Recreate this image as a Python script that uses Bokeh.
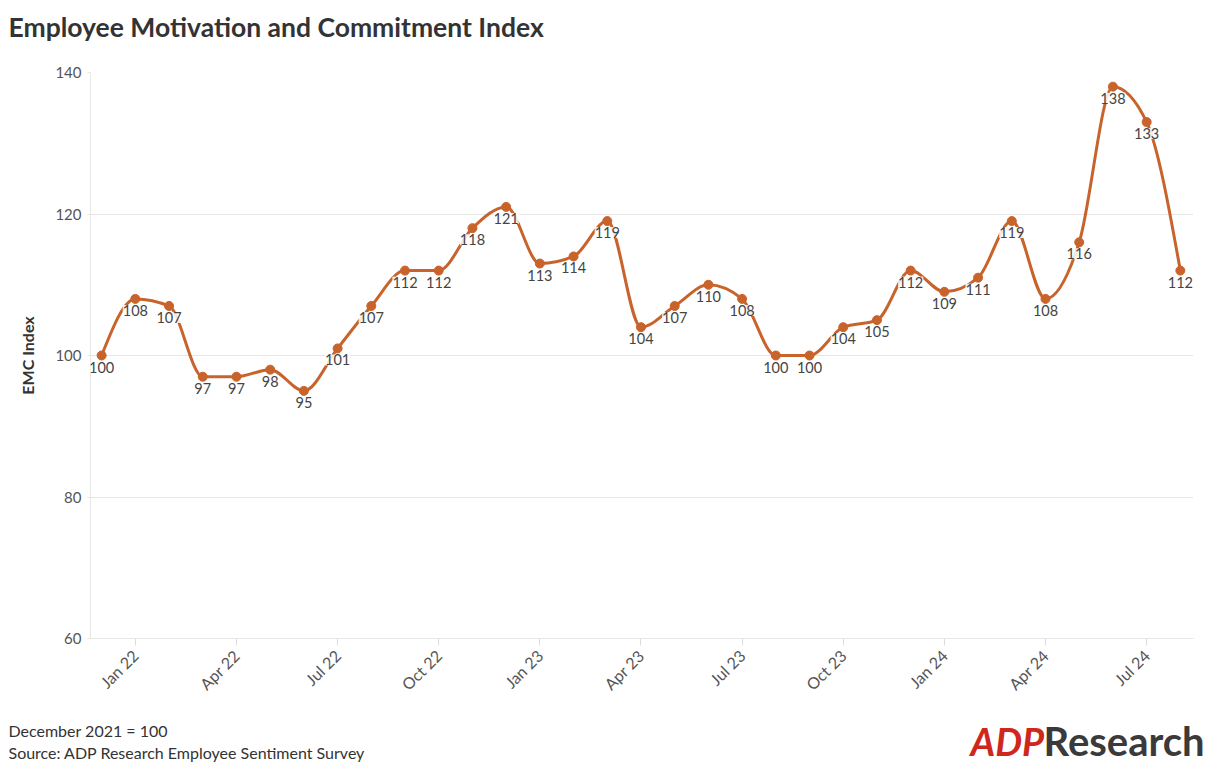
import numpy as np
from bokeh.plotting import figure
from bokeh.layouts import column
from bokeh.models import Range1d, FixedTicker, ColumnDataSource, LabelSet, Label
from bokeh.core.properties import value
from bokeh.embed import file_html
from bokeh.resources import INLINE

months = ["Dec 21", "Jan 22", "Feb 22", "Mar 22", "Apr 22", "May 22", "Jun 22", "Jul 22",
          "Aug 22", "Sep 22", "Oct 22", "Nov 22", "Dec 22", "Jan 23", "Feb 23", "Mar 23",
          "Apr 23", "May 23", "Jun 23", "Jul 23", "Aug 23", "Sep 23", "Oct 23", "Nov 23",
          "Dec 23", "Jan 24", "Feb 24", "Mar 24", "Apr 24", "May 24", "Jun 24", "Jul 24", "Aug 24"]
emc = [100, 108, 107, 97, 97, 98, 95, 101, 107, 112, 112, 118, 121, 113, 114, 119,
       104, 107, 110, 108, 100, 100, 104, 105, 112, 109, 111, 119, 108, 116, 138, 133, 112]
tick_months = ["Jan 22", "Apr 22", "Jul 22", "Oct 22", "Jan 23", "Apr 23",
               "Jul 23", "Oct 23", "Jan 24", "Apr 24", "Jul 24"]
y_ticks = [60, 80, 100, 120, 140]

FONT = "Lato"
LINE = "#c8632b"
W = 1210
HEAD_H, MAIN_H, FOOT_H = 56, 652, 58   # page y: 0-56, 56-708, 708-766

x = np.arange(len(emc), dtype=float)
y = np.array(emc, dtype=float)

# monotone-X (d3 style) tangents
n = len(x)
h = np.diff(x)
s = np.diff(y) / h
t = np.zeros(n)
for i in range(1, n - 1):
    s0, s1 = s[i - 1], s[i]
    h0, h1 = h[i - 1], h[i]
    p_ = (s0 * h1 + s1 * h0) / (h0 + h1)
    t[i] = (np.sign(s0) + np.sign(s1)) * min(abs(s0), abs(s1), 0.5 * abs(p_))
t[0] = (3 * s[0] - t[1]) / 2
t[-1] = (3 * s[-1] - t[-2]) / 2

seg = ColumnDataSource(dict(
    x0=x[:-1], y0=y[:-1], x1=x[1:], y1=y[1:],
    cx0=x[:-1] + h / 3, cy0=y[:-1] + h / 3 * t[:-1],
    cx1=x[1:] - h / 3, cy1=y[1:] - h / 3 * t[1:],
))
pts = ColumnDataSource(dict(x=x, y=y, lab=[str(v) for v in emc]))


def blank(height):
    f = figure(width=W, height=height, output_backend="svg", toolbar_location=None,
               x_range=Range1d(0, W), y_range=Range1d(height, 0),
               x_axis_location=None, y_axis_location=None, min_border=0,
               frame_align=False)
    f.grid.visible = False
    f.outline_line_color = None
    return f


def add_text(f, cx, cy, text, size, color, style="normal"):
    f.add_layout(Label(x=cx, y=cy, text=text, text_font=FONT, text_font_style=style,
                       text_font_size=size, text_color=color, text_baseline="middle"))


head = blank(HEAD_H)
add_text(head, 8, 26, "Employee Motivation and Commitment Index", "26.5px", "#333333", "bold")

p = figure(width=W, height=MAIN_H, output_backend="svg", toolbar_location=None,
           x_range=Range1d(-0.33, 32.39), y_range=Range1d(60, 140),
           min_border_left=90, min_border_right=W - 1193, min_border_top=72 - HEAD_H,
           min_border_bottom=HEAD_H + MAIN_H - 638, frame_align=False)
p.outline_line_color = None
p.background_fill_color = "white"

p.xgrid.grid_line_color = None
p.ygrid.grid_line_color = "#e6e6e6"
p.ygrid.ticker = FixedTicker(ticks=y_ticks)

p.yaxis.ticker = FixedTicker(ticks=y_ticks)
p.yaxis.axis_line_color = "#e6e6e6"
p.yaxis.major_tick_line_color = "#e6e6e6"
p.yaxis.major_tick_out = 3
p.yaxis.major_tick_in = 0
p.yaxis.minor_tick_line_color = None
p.yaxis.major_label_text_font = FONT
p.yaxis.major_label_text_font_size = "15px"
p.yaxis.major_label_text_color = "#555555"
p.yaxis.major_label_standoff = 6
p.yaxis.axis_label = "EMC Index"
p.yaxis.axis_label_text_font = FONT
p.yaxis.axis_label_text_font_style = "bold"
p.yaxis.axis_label_text_font_size = "16px"
p.yaxis.axis_label_text_color = "#333333"
p.yaxis.axis_label_standoff = 15

tick_pos = [float(months.index(m)) for m in tick_months]
p.xaxis.ticker = FixedTicker(ticks=tick_pos)
p.xaxis.major_label_overrides = {tp: m for tp, m in zip(tick_pos, tick_months)}
p.xaxis.major_label_orientation = np.pi / 4
p.xaxis.axis_line_color = "#e6e6e6"
p.xaxis.major_tick_line_color = "#dddddd"
p.xaxis.major_tick_out = 7
p.xaxis.major_tick_in = 0
p.xaxis.minor_tick_line_color = None
p.xaxis.major_label_text_font = FONT
p.xaxis.major_label_text_font_size = "16px"
p.xaxis.major_label_text_color = "#555555"
p.xaxis.major_label_standoff = 7

p.bezier("x0", "y0", "x1", "y1", "cx0", "cy0", "cx1", "cy1", source=seg,
         line_color=LINE, line_width=3)
p.scatter("x", "y", source=pts, size=9, fill_color=LINE, line_color=LINE)

labels = LabelSet(x="x", y="y", text="lab", source=pts, text_align="center",
                  text_baseline="top", y_offset=-6, text_font=value(FONT),
                  text_font_size=value("14.5px"), text_color="#444444",
                  background_fill_color="white", background_fill_alpha=0.85)
p.add_layout(labels)

foot = blank(FOOT_H)
add_text(foot, 8, 22, "December 2021 = 100", "16px", "#333333")
add_text(foot, 8, 44, "Source: ADP Research Employee Sentiment Survey", "16px", "#333333")
add_text(foot, 970, 32, "ADP", "38px", "#d0271d", "bold italic")
add_text(foot, 1043, 32, "Research", "40px", "#3a3a3a", "bold")

layout = column(head, p, foot, spacing=0)
open("out.html", "w").write(file_html(layout, INLINE))
